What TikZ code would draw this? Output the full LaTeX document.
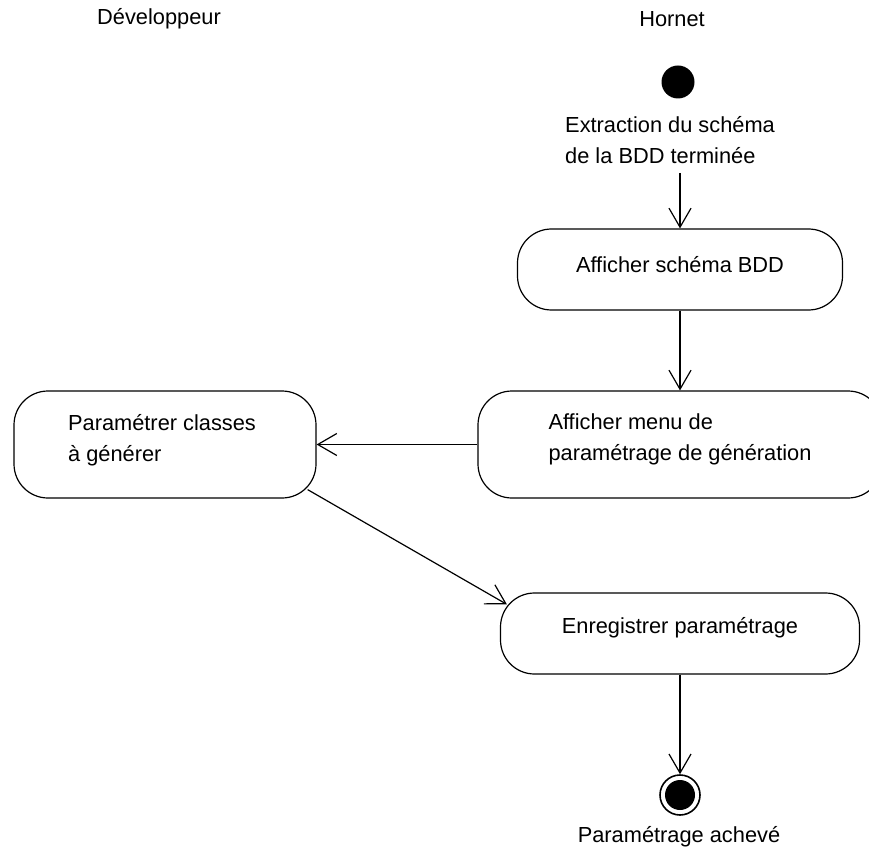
\documentclass[tikz,border=0pt]{standalone}
\usepackage{fontspec}
\setmainfont{Liberation Sans}
\usetikzlibrary{arrows.meta,calc}
\begin{document}
\begin{tikzpicture}[x=1pt,y=-1pt,
  every node/.style={font=\fontsize{21.8}{31}\selectfont, inner sep=0pt},
  activity/.style={draw, rectangle, rounded corners=34pt, line width=1.2pt},
  flow/.style={draw, line width=1.2pt, -{Straight Barb[length=19pt,width=22pt,line width=1.2pt]}},
  txt/.style={align=left}
]
\useasboundingbox (0,0) rectangle (869,858);
\begin{scope}
\clip (0,0) rectangle (869,858);

% lane titles
\node (dev) at (159,19) {Développeur};
\node (hor) at (672,19) {Hornet};

% start
\node[circle, fill=black, minimum size=33pt] (start) at (678,82) {};
\node[txt, anchor=west] (ext) at (565,140) {Extraction du schéma\\de la BDD terminée};
\coordinate (extout) at (680,173);

% activities
\node[activity, minimum width=325pt, minimum height=81pt] (b1) at (680,269.5) {};
\node (t1) at (680,265) {Afficher schéma BDD};

\node[activity, minimum width=404pt, minimum height=107pt] (b2) at (680,444.5) {};
\node[txt] (t2) at (680,439) {Afficher menu de\\paramétrage de génération};

\node[activity, minimum width=302pt, minimum height=107pt] (b3) at (165,444.5) {};
\node[txt] (t3) at (162,440) {Paramétrer classes\\à générer};

\node[activity, minimum width=359pt, minimum height=81pt] (b4) at (680,633.5) {};
\node (t4) at (680,628) {Enregistrer paramétrage};

% end
\node[circle, draw, line width=1.6pt, minimum size=40pt] (fin) at (680,795) {};
\fill (fin.center) circle (15);
\node (fint) at (679,837) {Paramétrage achevé};

% transitions
\draw[flow] (extout) -- (b1.north);
\draw[flow] (b1.south) -- (b2.north);
\draw[flow] (b2.west) -- (b3.east);
\draw[flow] ($(b3.south east)+(-9,-9)$) -- ($(b4.north west)+(7,12)$);
\draw[flow] (b4.south) -- (fin.north);
\end{scope}
\end{tikzpicture}
\end{document}
